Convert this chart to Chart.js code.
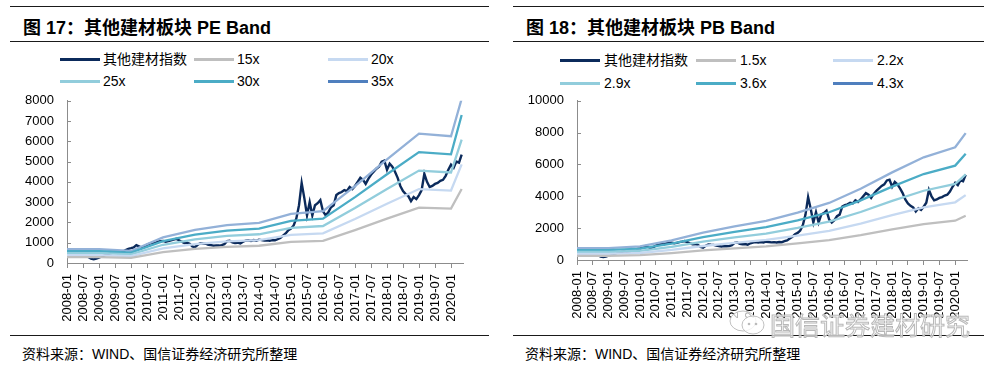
<!DOCTYPE html>
<html>
<head>
<meta charset="utf-8">
<script src="https://cdn.jsdelivr.net/npm/chart.js@4.4.0/dist/chart.umd.min.js"></script>
<style>
  body { margin: 0; width: 994px; height: 370px; background: #fff; position: relative; overflow: hidden;
         font-family: "Liberation Sans", Arial, "Noto Sans CJK SC", sans-serif; color: #000; }
  .rule { position: absolute; height: 1px; background: #1a1a1a; }
  .title { position: absolute; top: 13px; font-size: 18px; font-weight: bold; white-space: nowrap; }
  .source { position: absolute; top: 343px; font-size: 14px; white-space: nowrap; }
  .lg { position: absolute; font-size: 14px; white-space: nowrap; line-height: 16px; }
  .lg i { position: absolute; left: 0; top: 7px; width: 40px; height: 3px; }
  .lg span { position: absolute; top: 0; }
  canvas { position: absolute; }
  .wm { position: absolute; left: 770px; top: 306px; font-size: 25px; color: rgba(255,255,255,0.7);
        -webkit-text-stroke: 1px #b8b8b8; font-family: "Noto Sans CJK SC"; white-space: nowrap; }
</style>
</head>
<body>
<div class="rule" style="left:10px;width:479px;top:6px"></div>
<div class="rule" style="left:10px;width:479px;top:41px"></div>
<div class="rule" style="left:10px;width:479px;top:335px"></div>
<div class="rule" style="left:513px;width:471px;top:6px"></div>
<div class="rule" style="left:513px;width:471px;top:41px"></div>
<div class="rule" style="left:513px;width:471px;top:335px"></div>

<div class="title" style="left:23px">图 17：其他建材板块 PE Band</div>
<div class="title" style="left:526px">图 18：其他建材板块 PB Band</div>

<div id="legendPE"></div>
<div id="legendPB"></div>

<canvas id="chartPE" width="490" height="255" style="left:0;top:80px"></canvas>
<canvas id="chartPB" width="490" height="255" style="left:497px;top:80px"></canvas>

<svg style="position:absolute;left:728px;top:309px" width="40" height="28">
  <ellipse cx="15" cy="12" rx="13" ry="10" fill="rgba(255,255,255,0.7)" stroke="#c0c0c0"/>
  <ellipse cx="25" cy="16" rx="11" ry="9" fill="rgba(255,255,255,0.8)" stroke="#c0c0c0"/>
  <circle cx="21" cy="15" r="1.3" fill="#bbb"/><circle cx="28" cy="15" r="1.3" fill="#bbb"/>
</svg>
<div class="wm">国信证券建材研究</div>

<div class="source" style="left:22px">资料来源：WIND、国信证券经济研究所整理</div>
<div class="source" style="left:525px">资料来源：WIND、国信证券经济研究所整理</div>

<script>
// half-year tick labels (every 6 months from 2008-01)
const xTickLabels = ['2008-01','2008-07','2009-01','2009-07','2010-01','2010-07','2011-01','2011-07',
  '2012-01','2012-07','2013-01','2013-07','2014-01','2014-07','2015-01','2015-07','2016-01','2016-07',
  '2017-01','2017-07','2018-01','2018-07','2019-01','2019-07','2020-01'];

// 其他建材指数, monthly from 2008-01 (month index 0) to 2020-05 (148)
const indexValues = [
  520, 470, 480, 450, 470, 420, 400, 380, 300, 210, 180, 220,
  270, 320, 380, 430, 460, 500, 540, 510, 520, 560, 640, 700,
  730, 770, 880, 820, 760, 800, 900, 960, 1000, 980, 1050, 1080,
  1090, 1050, 1080, 1120, 1150, 1190, 1120, 1050, 990, 1000, 950, 820,
  780, 900, 980, 960, 950, 900, 880, 850, 870, 860, 880, 930,
  1080, 1100, 1020, 990, 1000, 960, 1050, 1100, 1120, 1090, 1130, 1100,
  1150, 1130, 1110, 1120, 1100, 1130, 1120, 1180, 1230, 1350, 1460, 1620,
  1700, 1850, 2200, 2850, 3950, 3200, 2350, 3000, 2350, 2850, 2950, 3100,
  2550, 2350, 2500, 2750, 2850, 3350, 3450, 3500, 3600, 3550, 3750, 3650,
  3800, 4000, 4200, 4100, 3900, 4150, 4350, 4500, 4650, 4750, 5000, 5050,
  4600, 4900, 4750, 4500, 4200, 3800, 3550, 3400, 3300, 3050, 3250, 3150,
  3350, 3600, 4400, 4000, 3750, 3800, 3900, 3950, 4050, 4100, 4300, 4600,
  4850, 4700, 5000, 4950, 5350
];

// band knots: month index of each yearly value
const bandMonths = [0, 12, 24, 36, 48, 60, 72, 84, 96, 108, 120, 132, 144, 148];

// PE bands
const pe15 = [290, 290, 255, 540, 700, 800, 850, 1040, 1095, 1625, 2190, 2735, 2680, 3650];
const pe20 = [387, 387, 340, 720, 933, 1067, 1133, 1387, 1460, 2167, 2920, 3647, 3573, 4867];
const pe25 = [483, 483, 425, 900, 1167, 1333, 1417, 1733, 1825, 2708, 3650, 4558, 4467, 6083];
const pe30 = [580, 580, 510, 1080, 1400, 1600, 1700, 2080, 2190, 3250, 4380, 5470, 5360, 7300];
const pe35 = [677, 677, 595, 1260, 1633, 1867, 1983, 2427, 2555, 3792, 5110, 6382, 6253, 8100];

// PB bands
const pb15 = [260, 260, 300, 430, 600, 735, 860, 1040, 1250, 1560, 1920, 2250, 2470, 2780];
const pb22 = [381, 381, 440, 631, 880, 1078, 1261, 1525, 1833, 2288, 2816, 3300, 3623, 4077];
const pb29 = [503, 503, 580, 831, 1160, 1421, 1663, 2011, 2417, 3016, 3712, 4350, 4775, 5375];
const pb36 = [624, 624, 720, 1032, 1440, 1764, 2064, 2496, 3000, 3744, 4608, 5400, 5928, 6672];
const pb43 = [745, 745, 860, 1233, 1720, 2107, 2465, 2981, 3583, 4472, 5504, 6450, 7081, 7969];

const seriesColors = ['#0b2a5b', '#bfbfbf', '#c6d9f1', '#92cddc', '#4bacc6', '#93b1d8'];
const legendColors = ['#0b2a5b', '#bfbfbf', '#c6d9f1', '#92cddc', '#4bacc6', '#4f7fbe'];
const peNames = ['其他建材指数', '15x', '20x', '25x', '30x', '35x'];
const pbNames = ['其他建材指数', '1.5x', '2.2x', '2.9x', '3.6x', '4.3x'];
const axisColor = '#8c8c8c';

function buildLegend(id, names, left, cols, rows) {
    const box = document.getElementById(id);
    names.forEach((name, i) => {
        const d = document.createElement('div');
        d.className = 'lg';
        d.style.left = cols[i % 3] + 'px';
        d.style.top = rows[Math.floor(i / 3)] + 'px';
        d.innerHTML = `<i style="background:${legendColors[i]}"></i><span style="left:${left}px">${name}</span>`;
        box.appendChild(d);
    });
}
buildLegend('legendPE', peNames, 43, [60, 194, 328], [51, 73]);
buildLegend('legendPB', pbNames, 44, [560, 696, 833], [52, 75]);

const innerTicks = {
    id: 'innerTicks',
    afterDraw(chart) {
        const ys = chart.scales.y, ctx = chart.ctx;
        ctx.save();
        ctx.strokeStyle = axisColor;
        ctx.lineWidth = 1;
        ys.ticks.forEach(t => {
            if (t.value === 0) return;
            const py = Math.round(ys.getPixelForValue(t.value)) + 0.5;
            ctx.beginPath();
            ctx.moveTo(ys.right, py);
            ctx.lineTo(ys.right + 4, py);
            ctx.stroke();
        });
        ctx.restore();
    }
};

function makeChart(id, bands, yMax, yStep, yWidth, xHeight, padRight, padTop) {
    const datasets = [{
        data: indexValues.map((v, i) => ({ x: i, y: v })),
        borderColor: seriesColors[0],
        borderWidth: 2.4,
        order: 1
    }];
    bands.forEach((b, i) => {
        datasets.push({
            data: bandMonths.map((m, k) => ({ x: m, y: b[k] })),
            borderColor: seriesColors[i + 1],
            borderWidth: 2.3,
            order: 0
        });
    });
    return new Chart(document.getElementById(id), {
        type: 'line',
        data: { datasets: datasets },
        plugins: [innerTicks],
        options: {
            responsive: false,
            animation: false,
            layout: { padding: { left: 0, right: padRight, top: padTop, bottom: 0 } },
            elements: { point: { radius: 0 }, line: { tension: 0 } },
            plugins: { legend: { display: false }, tooltip: { enabled: false } },
            scales: {
                x: {
                    type: 'linear',
                    min: 0,
                    max: 148.5,
                    afterBuildTicks: s => { s.ticks = xTickLabels.map((_, i) => ({ value: i * 6 })); },
                    afterFit: s => { s.height = xHeight; },
                    ticks: {
                        autoSkip: false,
                        minRotation: 90,
                        maxRotation: 90,
                        padding: 6,
                        color: '#000',
                        font: { family: 'Liberation Sans', size: 13 },
                        callback: (v, i) => xTickLabels[i]
                    },
                    grid: { drawOnChartArea: false, drawTicks: true, tickLength: 5, color: axisColor },
                    border: { display: true, color: axisColor, width: 1 }
                },
                y: {
                    min: 0,
                    max: yMax,
                    afterFit: s => { s.width = yWidth; },
                    ticks: {
                        stepSize: yStep,
                        padding: 13,
                        color: '#000',
                        font: { family: 'Liberation Sans', size: 13 },
                        callback: v => String(v)
                    },
                    grid: { drawOnChartArea: false, drawTicks: false, color: axisColor },
                    border: { display: true, color: axisColor, width: 1 }
                }
            }
        }
    });
}

makeChart('chartPE', [pe15, pe20, pe25, pe30, pe35], 8000, 1000, 67, 72, 27, 12);
makeChart('chartPB', [pb15, pb22, pb29, pb36, pb43], 10000, 2000, 80, 75, 20, 12.5);
</script>
</body>
</html>
